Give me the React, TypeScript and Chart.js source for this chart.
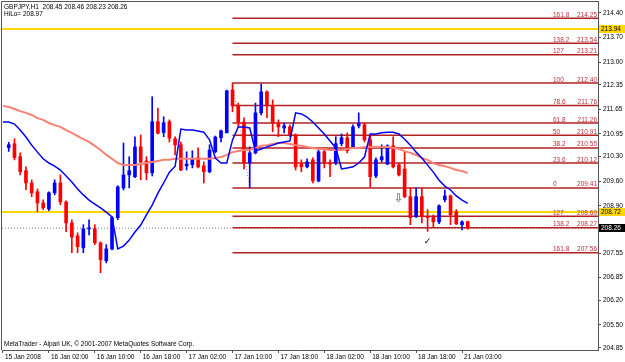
import React, { useEffect, useRef } from 'react';
import { Chart, registerables } from 'chart.js';
Chart.register(...registerables);

const SYMBOL = 'GBPJPY,H1';
const WATERMARK = 'MetaTrader - Alpari UK, © 2001-2007 MetaQuotes Software Corp.';
const FIRST_BAR = 1;
const OPEN = [210.56, 210.67, 210.30, 209.90, 209.55, 209.30, 208.98, 208.81, 209.27, 209.55, 209.01, 208.41, 208.04, 207.70, 208.24, 208.24, 207.84, 207.33, 207.67, 208.56, 209.41, 209.78, 209.73, 210.58, 210.18, 209.84, 211.30, 210.99, 211.30, 210.81, 210.64, 210.04, 210.07, 210.27, 210.04, 209.87, 210.44, 210.84, 210.98, 212.20, 211.75, 211.29, 210.12, 210.41, 211.55, 212.15, 211.75, 211.26, 211.12, 211.15, 210.92, 210.09, 210.01, 210.21, 209.61, 210.44, 210.12, 210.12, 210.67, 210.84, 210.58, 211.18, 211.21, 210.78, 209.75, 210.21, 210.09, 210.61, 210.07, 209.95, 209.16, 208.59, 209.16, 208.59, 208.59, 208.44, 209.07, 209.18, 208.73, 208.36, 208.45];
const HIGH = [210.71, 210.81, 210.41, 210.01, 209.64, 209.38, 209.07, 209.30, 209.64, 209.78, 209.04, 208.50, 208.13, 208.36, 208.50, 208.36, 207.87, 207.79, 208.59, 209.47, 210.69, 210.30, 210.87, 210.92, 210.30, 212.01, 211.69, 211.44, 211.35, 210.87, 210.72, 210.44, 210.47, 210.55, 210.15, 210.64, 210.89, 211.06, 212.20, 212.40, 211.83, 211.41, 210.58, 211.83, 212.37, 212.18, 211.92, 211.35, 211.26, 211.21, 210.95, 210.21, 210.24, 210.27, 210.49, 210.55, 210.21, 210.87, 210.95, 210.98, 211.21, 211.55, 211.26, 210.92, 210.27, 210.64, 210.64, 210.87, 210.12, 210.44, 209.41, 209.41, 209.41, 208.79, 208.64, 208.93, 209.35, 209.21, 208.79, 208.47, 208.46];
const LOW = [210.45, 210.21, 209.78, 209.36, 209.16, 208.73, 208.79, 208.76, 209.21, 208.93, 208.16, 207.56, 207.56, 207.56, 208.07, 207.79, 206.99, 207.27, 207.64, 208.50, 209.35, 209.41, 209.70, 209.64, 209.64, 209.75, 210.95, 210.87, 210.72, 210.35, 209.90, 209.92, 209.98, 209.98, 209.55, 209.84, 210.41, 210.72, 210.98, 211.58, 211.15, 209.95, 209.41, 210.38, 211.49, 211.41, 211.01, 210.87, 210.98, 210.87, 209.92, 209.87, 209.98, 209.55, 209.58, 209.98, 209.73, 210.07, 210.61, 210.41, 210.55, 211.12, 210.72, 209.44, 209.70, 210.15, 210.07, 209.98, 209.75, 209.13, 208.36, 208.56, 208.41, 208.17, 208.30, 208.39, 209.01, 208.36, 208.36, 208.21, 208.23];
const CLOSE = [210.64, 210.27, 209.87, 209.55, 209.27, 208.98, 208.84, 209.27, 209.55, 209.01, 208.41, 208.01, 207.73, 208.24, 208.27, 207.84, 207.36, 207.67, 208.56, 209.44, 209.78, 209.90, 210.58, 210.15, 209.84, 211.30, 210.97, 211.27, 210.83, 210.64, 209.92, 210.09, 210.24, 210.01, 209.87, 210.49, 210.86, 211.04, 212.18, 211.75, 211.29, 210.12, 210.41, 211.55, 212.15, 211.75, 211.26, 211.15, 211.18, 210.92, 210.01, 210.01, 210.15, 209.61, 210.44, 210.12, 210.09, 210.67, 210.84, 210.47, 211.15, 211.24, 210.78, 209.73, 210.21, 210.30, 210.61, 210.01, 209.78, 209.16, 208.56, 209.16, 208.59, 208.56, 208.44, 208.90, 209.18, 208.64, 208.39, 208.44, 208.26];
const HILO = [211.29, 211.29, 211.23, 211.06, 210.86, 210.63, 210.43, 210.24, 210.12, 210.03, 209.92, 209.75, 209.58, 209.38, 209.21, 209.06, 208.95, 208.84, 208.72, 208.58, 207.67, 207.75, 207.92, 208.15, 208.35, 208.64, 208.92, 209.26, 209.55, 209.86, 210.03, 211.09, 211.06, 211.06, 211.03, 211.00, 210.78, 210.26, 210.12, 210.12, 210.78, 211.15, 211.15, 211.12, 210.46, 210.52, 210.58, 210.63, 210.69, 210.72, 210.75, 211.55, 211.52, 211.43, 211.29, 211.12, 210.95, 210.75, 210.55, 209.95, 209.98, 210.01, 210.12, 210.29, 210.95, 210.95, 210.98, 211.00, 211.00, 210.95, 210.80, 210.63, 210.43, 210.26, 210.06, 209.86, 209.63, 209.46, 209.35, 209.18, 209.06, 208.97];
const MA = [211.75, 211.72, 211.66, 211.60, 211.55, 211.49, 211.40, 211.35, 211.26, 211.20, 211.15, 211.06, 210.98, 210.89, 210.80, 210.72, 210.61, 210.49, 210.35, 210.24, 210.12, 210.06, 210.06, 210.06, 210.09, 210.12, 210.15, 210.18, 210.21, 210.21, 210.24, 210.24, 210.24, 210.24, 210.24, 210.24, 210.24, 210.26, 210.29, 210.35, 210.43, 210.46, 210.49, 210.49, 210.55, 210.61, 210.63, 210.66, 210.69, 210.69, 210.66, 210.63, 210.61, 210.58, 210.55, 210.52, 210.52, 210.49, 210.49, 210.49, 210.52, 210.55, 210.55, 210.58, 210.58, 210.58, 210.58, 210.58, 210.55, 210.52, 210.46, 210.41, 210.35, 210.26, 210.21, 210.12, 210.06, 210.03, 209.98, 209.92, 209.89, 209.83];

const X_STEP = 8;
const X_LABELS = ['15 Jan 2008', '16 Jan 02:00', '16 Jan 10:00', '16 Jan 18:00', '17 Jan 02:00', '17 Jan 10:00', '17 Jan 18:00', '18 Jan 02:00', '18 Jan 10:00', '18 Jan 18:00', '21 Jan 03:00'];
const Y_TICKS = [214.40, 213.70, 213.00, 212.35, 211.65, 210.95, 210.30, 209.60, 208.90, 208.20, 207.55, 206.85, 206.20, 205.50, 204.85];

const FIB_START = 40;
const FIB_HIGH_BAR = 40;
const FIB_LOW_BAR = 43;
const FIB_LEVELS = ['161.8', '138.2', '127', '100', '78.6', '61.8', '50', '38.2', '23.6', '0', '127', '138.2', '161.8'];
const FIB_PRICES = [214.25, 213.54, 213.21, 212.40, 211.76, 211.26, 210.91, 210.55, 210.12, 209.41, 208.60, 208.27, 207.56];
const HLINES = [213.94, 208.72];
const BID = 208.26;
const ARROW_DOWN = { bar: 69, price: 209.09 };
const CHECK = { bar: 74, price: 207.87 };

const X_MIN = -0.174;
const X_MAX = 103.7;
const Y_MIN = 204.785;
const Y_MAX = 214.742;

const UP = '#0000ff';
const DOWN = '#ff0000';
const FIB_COLOR = '#b22222';
const GOLD = '#ffd700';
const FONT_FAMILY = '"Liberation Sans", Arial, sans-serif';
const FS = 6.5;

export default function App() {
  const ref = useRef<HTMLCanvasElement>(null);
  useEffect(() => {
    document.body.style.margin = '0';
    const canvas = ref.current;
    if (!canvas) return;
    const idx = OPEN.map((_, k) => k + FIRST_BAR);
    const col = (ctx: any) => (CLOSE[ctx.dataIndex] >= OPEN[ctx.dataIndex] ? UP : DOWN);
    const hline = (p: number, x0: number, color: string, width: number, dash: number[] = []) => ({
      type: 'line', data: [{ x: x0, y: p }, { x: X_MAX, y: p }], borderColor: color, borderWidth: width,
      borderDash: dash, pointRadius: 0, order: 3,
    });
    const overlay = {
      id: 'overlay',
      afterDraw(chart: any) {
        const { ctx, chartArea: a, scales } = chart;
        const x = scales.x, y = scales.y;
        ctx.save();
        ctx.strokeStyle = '#555';
        ctx.lineWidth = 1;
        ctx.beginPath();
        ctx.moveTo(a.left - 0.5, a.bottom);
        ctx.lineTo(a.left - 0.5, a.top + 0.5);
        ctx.lineTo(a.right, a.top + 0.5);
        ctx.stroke();
        ctx.font = `${FS}px ${FONT_FAMILY}`;
        ctx.textBaseline = 'alphabetic';
        ctx.fillStyle = '#c0303a';
        FIB_PRICES.forEach((p, k) => {
          const py = y.getPixelForValue(p);
          ctx.textAlign = 'left';
          ctx.fillText(FIB_LEVELS[k], a.right - 45, py - 1.5);
          ctx.textAlign = 'right';
          ctx.fillText(p.toFixed(2), a.right - 1, py - 1.5);
        });
        ctx.fillStyle = '#000';
        ctx.textAlign = 'left';
        const n = OPEN.length - 1;
        ctx.fillText(`${SYMBOL}  ${OPEN[n].toFixed(2)} ${HIGH[n].toFixed(2)} ${LOW[n].toFixed(2)} ${CLOSE[n].toFixed(2)}`, 4, 8.5);
        ctx.fillText(`HiLo= ${HILO[HILO.length - 1].toFixed(2)}`, 4, 15.5);
        ctx.fillText(WATERMARK, 4, 345.5);
        const boxes = [
          { v: HLINES[0], bg: GOLD, fg: '#000' },
          { v: HLINES[1], bg: GOLD, fg: '#000' },
          { v: BID, bg: '#000', fg: '#fff' },
        ];
        ctx.textBaseline = 'middle';
        boxes.forEach((b) => {
          const py = y.getPixelForValue(b.v);
          ctx.fillStyle = b.bg;
          ctx.fillRect(a.right + 1, Math.round(py) - 4, 27, 8);
          ctx.fillStyle = b.fg;
          ctx.fillText(b.v.toFixed(2), a.right + 3, Math.round(py) + 0.5);
        });
        ctx.textAlign = 'center';
        ctx.font = `12px "DejaVu Sans", sans-serif`;
        ctx.fillStyle = '#555';
        ctx.fillText('⇩', x.getPixelForValue(ARROW_DOWN.bar), y.getPixelForValue(ARROW_DOWN.price));
        ctx.fillStyle = '#000';
        ctx.font = `9px "DejaVu Sans", sans-serif`;
        ctx.fillText('✓', x.getPixelForValue(CHECK.bar), y.getPixelForValue(CHECK.price));
        ctx.restore();
      },
    };
    const chart = new Chart(canvas, {
      type: 'bar',
      data: {
        datasets: [
          { type: 'line', data: HILO.map((v, i) => ({ x: i, y: v })), borderColor: UP, borderWidth: 1.5, pointRadius: 0, order: 0 },
          { type: 'line', data: MA.map((v, i) => ({ x: i, y: v })), borderColor: '#fa8072', borderWidth: 2, pointRadius: 0, order: 0 },
          { type: 'bar', data: idx.map((i, k) => ({ x: i, y: [OPEN[k], CLOSE[k]] })), backgroundColor: col, barThickness: 3, grouped: false, minBarLength: 1, order: 1 },
          { type: 'bar', data: idx.map((i, k) => ({ x: i, y: [LOW[k], HIGH[k]] })), backgroundColor: col, barThickness: 1, grouped: false, order: 2 },
          ...FIB_PRICES.map((p) => hline(p, FIB_START, FIB_COLOR, 1.5)),
          { type: 'line', data: [{ x: FIB_HIGH_BAR, y: FIB_PRICES[3] }, { x: FIB_LOW_BAR, y: FIB_PRICES[9] }], borderColor: '#d07050', borderWidth: 1, borderDash: [1, 2], pointRadius: 0, order: 3 },
          ...HLINES.map((p) => hline(p, X_MIN, GOLD, 2)),
          hline(BID, X_MIN, '#808080', 1, [1, 2]),
        ] as any,
      },
      options: {
        responsive: false,
        animation: false,
        events: [],
        layout: { padding: { left: 2, top: 1, right: 0, bottom: 0 } },
        plugins: { legend: { display: false }, tooltip: { enabled: false } },
        scales: {
          x: {
            type: 'linear', min: X_MIN, max: X_MAX, offset: false,
            afterBuildTicks: (s: any) => { s.ticks = X_LABELS.map((_, k) => ({ value: k * X_STEP })); },
            afterFit: (s: any) => { s.height = 12; s.paddingLeft = 0; s.paddingRight = 0; },
            ticks: {
              align: 'start', labelOffset: 2, padding: 0, maxRotation: 0, minRotation: 0, autoSkip: false,
              color: '#000', font: { family: FONT_FAMILY, size: FS },
              callback: (v: any) => X_LABELS[Math.round(Number(v) / X_STEP)] ?? '',
            },
            grid: { drawOnChartArea: false, offset: false, tickLength: 3, color: '#555' },
            border: { color: '#555' },
          },
          y: {
            position: 'right', min: Y_MIN, max: Y_MAX,
            afterBuildTicks: (s: any) => { s.ticks = Y_TICKS.map((v) => ({ value: v })); },
            afterFit: (s: any) => { s.width = 27; s.paddingTop = 0; s.paddingBottom = 0; },
            ticks: { padding: 2, color: '#000', font: { family: FONT_FAMILY, size: FS }, callback: (v: any) => Number(v).toFixed(2) },
            grid: { drawOnChartArea: false, tickLength: 3, color: '#555' },
            border: { color: '#555' },
          },
        },
      } as any,
      plugins: [overlay],
    });
    return () => chart.destroy();
  }, []);
  return (
    <div style={{ width: 625, height: 362, background: '#fff' }}>
      <canvas ref={ref} width={625} height={362} style={{ display: 'block' }} />
    </div>
  );
}
